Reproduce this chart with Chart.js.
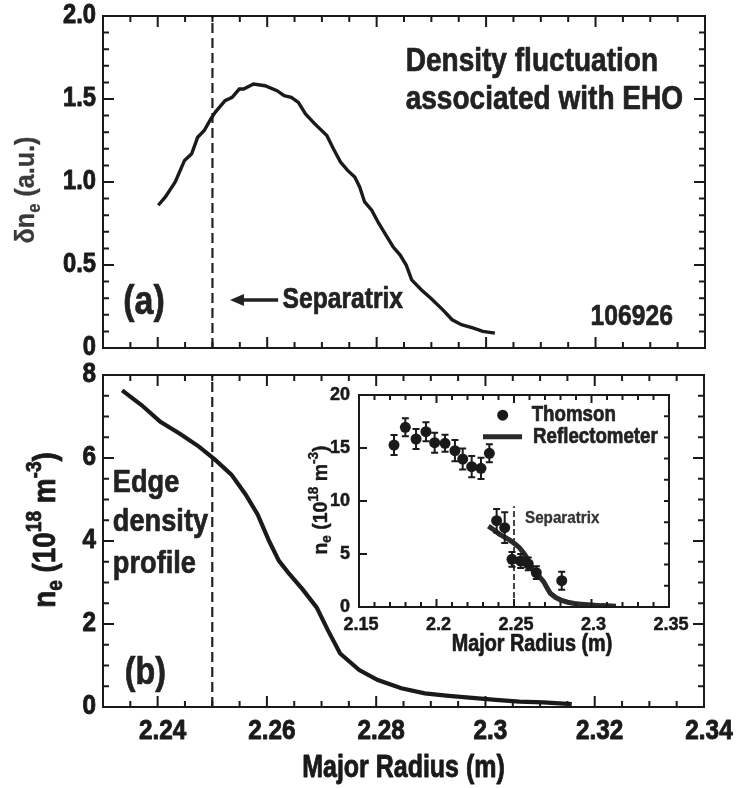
<!DOCTYPE html>
<html>
<head>
<meta charset="utf-8">
<script src="https://cdn.jsdelivr.net/npm/chart.js@4/dist/chart.umd.min.js"></script>
<style>
  html, body { margin: 0; padding: 0; background: #fff; }
  #wrap { position: relative; width: 737px; height: 788px; background: #fff; overflow: hidden; }
  canvas { position: absolute; }
</style>
</head>
<body>
<div id="wrap">
  <canvas id="topChart" width="737" height="360" style="left:0;top:0"></canvas>
  <canvas id="bottomChart" width="737" height="428" style="left:0;top:360px"></canvas>
  <canvas id="insetChart" width="390" height="280" style="left:300px;top:385px"></canvas>
</div>
<script>
const FONT = '"Liberation Sans", Arimo, Arial, sans-serif';
const INK = '#1a1a1a';

// (a) density fluctuation associated with EHO
const flucR = [2.2401, 2.2414, 2.2432, 2.2449, 2.2462, 2.2473, 2.2485, 2.2497, 2.2505, 2.2523,
  2.2536, 2.2549, 2.2557, 2.2575, 2.2596, 2.2618, 2.2631, 2.2644, 2.2657, 2.2670,
  2.2687, 2.2709, 2.2721, 2.2734, 2.2747, 2.2760, 2.2769, 2.2778, 2.2791, 2.2804,
  2.2817, 2.2830, 2.2843, 2.2854, 2.2864, 2.2882, 2.2899, 2.2921, 2.2938, 2.2955,
  2.2977, 2.2994, 2.3016];
const flucAmp = [0.86, 0.91, 1.00, 1.13, 1.17, 1.27, 1.31, 1.38, 1.42, 1.49,
  1.51, 1.56, 1.56, 1.59, 1.58, 1.55, 1.52, 1.51, 1.48, 1.41,
  1.35, 1.28, 1.20, 1.12, 1.07, 1.03, 0.97, 0.88, 0.83, 0.75,
  0.68, 0.61, 0.56, 0.50, 0.41, 0.35, 0.30, 0.23, 0.17, 0.14,
  0.12, 0.10, 0.09];

// (b) edge density profile (reflectometer)
const profR = [2.2335, 2.2371, 2.2405, 2.2440, 2.2475, 2.2505, 2.2535, 2.2561, 2.2583, 2.2604,
  2.2622, 2.2639, 2.2665, 2.2691, 2.2712, 2.2734, 2.2769, 2.2803, 2.2846, 2.2889,
  2.2933, 2.2976, 2.3019, 2.3062, 2.3106, 2.3158];
const profNe = [7.63, 7.27, 6.87, 6.59, 6.28, 5.96, 5.60, 5.12, 4.64, 4.00,
  3.52, 3.24, 2.84, 2.40, 1.84, 1.29, 0.89, 0.65, 0.45, 0.33,
  0.27, 0.22, 0.17, 0.13, 0.11, 0.07];

// inset: Thomson scattering points with error bars
const thomR = [2.1726, 2.1799, 2.1868, 2.1932, 2.1988, 2.2055, 2.2119, 2.2169, 2.2227, 2.2287,
  2.2341, 2.2388, 2.2440, 2.2487, 2.2543, 2.2592, 2.2644, 2.2808];
const thomNe = [15.28, 16.95, 15.85, 16.54, 15.5, 15.44, 14.75, 13.96, 13.24, 13.08,
  14.5, 8.14, 7.48, 4.5, 4.34, 4.06, 3.24, 2.48];
const thomErr = [0.95, 0.85, 0.95, 0.9, 0.95, 0.8, 1.0, 1.0, 1.0, 1.0,
  0.85, 1.1, 1.45, 0.7, 0.65, 0.6, 0.6, 0.85];

const separatrixR = 2.25;

// axis ticks
const topYTicks = [0, 0.5, 1, 1.5, 2];
const topYLabels = ['0', '0.5', '1.0', '1.5', '2.0'];
const botXTicks = [2.24, 2.26, 2.28, 2.3, 2.32, 2.34];
const botXLabels = ['2.24', '2.26', '2.28', '2.3', '2.32', '2.34'];
const botYTicks = [0, 2, 4, 6, 8];
const botYLabels = ['0', '2', '4', '6', '8'];
const insetXTicks = [2.15, 2.2, 2.25, 2.3, 2.35];
const insetXLabels = ['2.15', '2.2', '2.25', '2.3', '2.35'];
const insetYTicks = [0, 5, 10, 15, 20];
const insetYLabels = ['0', '5', '10', '15', '20'];

const pts = (xs, ys) => xs.map((x, i) => ({ x, y: ys[i] }));

// condensed heavy text: Liberation Sans Bold squeezed horizontally, lightly stroked
function ctext(ctx, s, x, y, size, o = {}) {
  ctx.save();
  ctx.translate(x, y);
  if (o.rotate) ctx.rotate(-Math.PI / 2);
  ctx.scale(o.hs || 0.85, 1);
  ctx.font = `bold ${size}px ${FONT}`;
  ctx.fillStyle = ctx.strokeStyle = o.color || '#222';
  ctx.lineWidth = o.stroke === undefined ? 0.7 : o.stroke;
  ctx.lineJoin = 'round';
  ctx.textAlign = o.align || 'left';
  ctx.textBaseline = 'middle';
  ctx.fillText(s, 0, 0);
  if (ctx.lineWidth > 0 && o.stroke !== 0) ctx.strokeText(s, 0, 0);
  ctx.restore();
}

// text with sub/superscripts, centred at cx,cy, optionally rotated
function rich(ctx, parts, cx, cy, size, o = {}) {
  ctx.save();
  ctx.translate(cx, cy);
  if (o.rotate) ctx.rotate(-Math.PI / 2);
  ctx.scale(o.hs || 0.85, 1);
  let w = 0;
  const items = parts.map(([t, k]) => {
    const s = k ? Math.round(size * 0.68) : size;
    ctx.font = `bold ${s}px ${FONT}`;
    const it = { t, s, x: w, dy: k === 'sub' ? size * 0.3 : k === 'sup' ? -size * 0.36 : 0 };
    w += ctx.measureText(t).width;
    return it;
  });
  ctx.fillStyle = ctx.strokeStyle = o.color || INK;
  ctx.lineWidth = o.stroke === undefined ? 0.6 : o.stroke;
  ctx.lineJoin = 'round';
  ctx.textAlign = 'left';
  ctx.textBaseline = 'middle';
  items.forEach(it => {
    ctx.font = `bold ${it.s}px ${FONT}`;
    ctx.fillText(it.t, it.x - w / 2, it.dy);
    if (o.stroke !== 0) ctx.strokeText(it.t, it.x - w / 2, it.dy);
  });
  ctx.restore();
}

// frame, inward tick marks on all four sides, and tick labels at the scale's ticks
const framePlugin = {
  id: 'frame',
  afterDraw(chart, args, o) {
    const { ctx, chartArea: a, scales: { x, y } } = chart;
    ctx.save();
    ctx.strokeStyle = INK;
    ctx.lineWidth = o.lineWidth || 2;
    const near = (v, m) => Math.abs(v / m - Math.round(v / m)) < 1e-6;
    const each = (scale, step, fn) => {
      const n = Math.round((scale.max - scale.min) / step);
      for (let i = 0; i <= n; i++) {
        const v = scale.min + i * step;
        fn(v, scale.getPixelForValue(v));
      }
    };
    ctx.beginPath();
    each(x, o.xStep, (v, p) => {
      if (p < a.left + 1 || p > a.right - 1) return;
      const l = near(v, o.xMajor) ? o.major : o.minor;
      ctx.moveTo(p, a.bottom); ctx.lineTo(p, a.bottom - l);
      ctx.moveTo(p, a.top); ctx.lineTo(p, a.top + l);
    });
    each(y, o.yStep, (v, p) => {
      if (p < a.top + 1 || p > a.bottom - 1) return;
      const l = near(v, o.yMajor) ? o.major : o.minor;
      ctx.moveTo(a.left, p); ctx.lineTo(a.left + l, p);
      if (!o.yStepRight) { ctx.moveTo(a.right, p); ctx.lineTo(a.right - l, p); }
    });
    if (o.yStepRight) {
      each(y, o.yStepRight, (v, p) => {
        if (p < a.top + 1 || p > a.bottom - 1) return;
        ctx.moveTo(a.right, p); ctx.lineTo(a.right - o.minor, p);
      });
    }
    ctx.stroke();
    ctx.strokeRect(a.left, a.top, a.width, a.height);
    ctx.restore();

    const lab = o.labels;
    if (lab.x) {
      x.ticks.forEach((t, i) => ctext(ctx, lab.x[i], x.getPixelForValue(t.value) + lab.xShift,
        a.bottom + lab.xGap, lab.size, { hs: lab.hs, align: 'center', color: INK, stroke: lab.stroke }));
    }
    if (lab.y) {
      y.ticks.forEach((t, i) => ctext(ctx, lab.y[i], a.left - lab.yGap,
        y.getPixelForValue(t.value), lab.size, { hs: lab.hs, align: 'right', color: INK, stroke: lab.stroke }));
    }
  }
};
Chart.register(framePlugin);

function axis(min, max, tickVals, fixSize) {
  return {
    type: 'linear', min, max,
    grid: { display: false }, border: { display: false },
    afterBuildTicks: s => { s.ticks = tickVals.map(v => ({ value: v })); },
    ticks: { display: false },
    afterFit: fixSize
  };
}

const common = {
  responsive: false, devicePixelRatio: 1, animation: false, events: [],
  plugins: { legend: { display: false }, tooltip: { enabled: false } }
};

function init() {
  // ---------- (a) ----------
  new Chart(document.getElementById('topChart'), {
    type: 'line',
    data: {
      datasets: [
        { data: pts(flucR, flucAmp), borderColor: INK, borderWidth: 3.4, pointRadius: 0 },
        { data: pts([separatrixR, separatrixR], [0, 2]), borderColor: '#222', borderWidth: 2.2,
          borderDash: [10, 5], pointRadius: 0 }
      ]
    },
    options: Object.assign({}, common, {
      layout: { padding: { left: 0, top: 16, right: 32, bottom: 0 } },
      scales: {
        x: axis(2.23, 2.34, botXTicks, s => { s.height = 12; }),
        y: axis(0, 2, topYTicks, s => { s.width = 103; })
      },
      plugins: Object.assign({}, common.plugins, {
        frame: { xStep: 0.005, xMajor: 0.02, yStep: 0.1, yMajor: 0.5, major: 11, minor: 6,
          labels: { x: null, y: topYLabels, size: 27, hs: 0.88, yGap: 7, stroke: 0.9 } }
      })
    }),
    plugins: [{
      id: 'notesA',
      afterDraw(chart) {
        const { ctx, scales: { x, y } } = chart;
        ctext(ctx, 'Density fluctuation', x.getPixelForValue(2.2853), y.getPixelForValue(1.723), 33);
        ctext(ctx, 'associated with EHO', x.getPixelForValue(2.2853), y.getPixelForValue(1.494), 33);
        ctext(ctx, '(a)', x.getPixelForValue(2.2337), y.getPixelForValue(0.271), 40);
        ctext(ctx, 'Separatrix', x.getPixelForValue(2.2628), y.getPixelForValue(0.289), 29);
        ctext(ctx, '106926', x.getPixelForValue(2.3191), y.getPixelForValue(0.187), 29);
        // arrow pointing to separatrix
        const ay = y.getPixelForValue(0.289);
        const x0 = x.getPixelForValue(2.2620), x1 = x.getPixelForValue(2.2532);
        ctx.save();
        ctx.strokeStyle = '#222'; ctx.fillStyle = '#222'; ctx.lineWidth = 3.5;
        ctx.beginPath(); ctx.moveTo(x0, ay); ctx.lineTo(x1 + 10, ay); ctx.stroke();
        ctx.beginPath(); ctx.moveTo(x1, ay); ctx.lineTo(x1 + 14, ay - 6); ctx.lineTo(x1 + 14, ay + 6);
        ctx.closePath(); ctx.fill();
        ctx.restore();
        rich(ctx, [['\u03b4n', ''], ['e', 'sub'], [' (a.u.)', '']], 27, 190, 27,
          { rotate: true, hs: 0.93, color: '#3a3a3a', stroke: 0.3 });
      }
    }]
  });

  // ---------- (b) ----------
  new Chart(document.getElementById('bottomChart'), {
    type: 'line',
    data: {
      datasets: [
        { data: pts(profR, profNe), borderColor: INK, borderWidth: 4.2, pointRadius: 0 },
        { data: pts([separatrixR, separatrixR], [0, 8]), borderColor: '#222', borderWidth: 2.2,
          borderDash: [10, 5], pointRadius: 0 }
      ]
    },
    options: Object.assign({}, common, {
      layout: { padding: { left: 0, top: 15, right: 33, bottom: 0 } },
      scales: {
        x: axis(2.23, 2.34, botXTicks, s => { s.height = 81; }),
        y: axis(0, 8, botYTicks, s => { s.width = 103; })
      },
      plugins: Object.assign({}, common.plugins, {
        frame: { xStep: 0.005, xMajor: 0.02, yStep: 0.5, yMajor: 2, major: 11, minor: 6,
          labels: { x: botXLabels, y: botYLabels, size: 27, hs: 0.9, xGap: 25, xShift: 5, yGap: 7, stroke: 0.9 } }
      })
    }),
    plugins: [{
      id: 'notesB',
      afterDraw(chart) {
        const { ctx, chartArea: a, scales: { x, y } } = chart;
        const lx = x.getPixelForValue(2.2318);
        ctext(ctx, 'Edge', lx, y.getPixelForValue(5.39), 32);
        ctext(ctx, 'density', lx, y.getPixelForValue(4.45), 32);
        ctext(ctx, 'profile', lx, y.getPixelForValue(3.45), 32);
        ctext(ctx, '(b)', x.getPixelForValue(2.234), y.getPixelForValue(0.81), 38);
        ctext(ctx, 'Major Radius (m)', (a.left + a.right) / 2, 408, 32,
          { align: 'center', hs: 0.78, color: INK, stroke: 0.9 });
        rich(ctx, [['n', ''], ['e', 'sub'], [' (10', ''], ['18', 'sup'], [' m', ''], ['-3', 'sup'], [')', '']],
          46, 170, 32, { rotate: true, hs: 0.87, stroke: 0.8 });
      }
    }]
  });

  // ---------- inset ----------
  new Chart(document.getElementById('insetChart'), {
    type: 'line',
    data: {
      datasets: [
        { data: pts(thomR, thomNe), showLine: false, pointRadius: 5.5, pointBackgroundColor: INK,
          pointBorderWidth: 0, borderColor: INK },
        { data: pts(profR, profNe), borderColor: '#2a2a2a', borderWidth: 5, pointRadius: 0 },
        { data: pts([separatrixR, separatrixR], [0, 9.5]), borderColor: '#444', borderWidth: 2,
          borderDash: [6, 3], pointRadius: 0 }
      ]
    },
    options: Object.assign({}, common, {
      layout: { padding: { left: 0, top: 10, right: 21, bottom: 0 } },
      scales: {
        x: axis(2.15, 2.35, insetXTicks, s => { s.height = 58; }),
        y: axis(0, 20, insetYTicks, s => { s.width = 59; })
      },
      plugins: Object.assign({}, common.plugins, {
        frame: { xStep: 0.01, xMajor: 0.05, yStep: 5, yMajor: 5, yStepRight: 2, major: 8, minor: 5, lineWidth: 2,
          labels: { x: insetXLabels, y: insetYLabels, size: 19, hs: 0.95, xGap: 18, xShift: 2, yGap: 9, stroke: 0.5 } }
      })
    }),
    plugins: [{
      id: 'notesInset',
      afterDatasetsDraw(chart) {
        const { ctx, scales: { x, y } } = chart;
        ctx.save();
        ctx.strokeStyle = INK; ctx.lineWidth = 2;
        ctx.beginPath();
        thomR.forEach((r, i) => {
          const px = x.getPixelForValue(r);
          const y1 = y.getPixelForValue(thomNe[i] - thomErr[i]);
          const y2 = y.getPixelForValue(thomNe[i] + thomErr[i]);
          ctx.moveTo(px, y1); ctx.lineTo(px, y2);
          ctx.moveTo(px - 3.5, y1); ctx.lineTo(px + 3.5, y1);
          ctx.moveTo(px - 3.5, y2); ctx.lineTo(px + 3.5, y2);
        });
        ctx.stroke();
        ctx.restore();
      },
      afterDraw(chart) {
        const { ctx, scales: { x, y } } = chart;
        // legend
        const ly1 = y.getPixelForValue(18.1), ly2 = y.getPixelForValue(16.07);
        ctx.save();
        ctx.fillStyle = INK;
        ctx.beginPath(); ctx.arc(x.getPixelForValue(2.2427), ly1, 5.5, 0, Math.PI * 2); ctx.fill();
        ctx.strokeStyle = '#2a2a2a'; ctx.lineWidth = 5;
        ctx.beginPath(); ctx.moveTo(x.getPixelForValue(2.230), ly2); ctx.lineTo(x.getPixelForValue(2.2552), ly2); ctx.stroke();
        ctx.restore();
        ctext(ctx, 'Thomson', x.getPixelForValue(2.2614), ly1, 22);
        ctext(ctx, 'Reflectometer', x.getPixelForValue(2.2623), ly2, 22);
        ctext(ctx, 'Separatrix', x.getPixelForValue(2.2571), y.getPixelForValue(8.3), 16,
          { hs: 0.95, color: '#333', stroke: 0.3 });
        ctext(ctx, 'Major Radius (m)', 232, 260, 23, { align: 'center', hs: 0.86, color: INK });
        rich(ctx, [['n', ''], ['e', 'sub'], [' (10', ''], ['18', 'sup'], [' m', ''], ['-3', 'sup'], [')', '']],
          21, 115, 20, { rotate: true, hs: 0.97, stroke: 0.4 });
      }
    }]
  });
}

const fontsReady = document.fonts && document.fonts.load
  ? document.fonts.load(`bold 20px "Liberation Sans"`).catch(() => {})
  : Promise.resolve();
fontsReady.then(init, init);
</script>
</body>
</html>
